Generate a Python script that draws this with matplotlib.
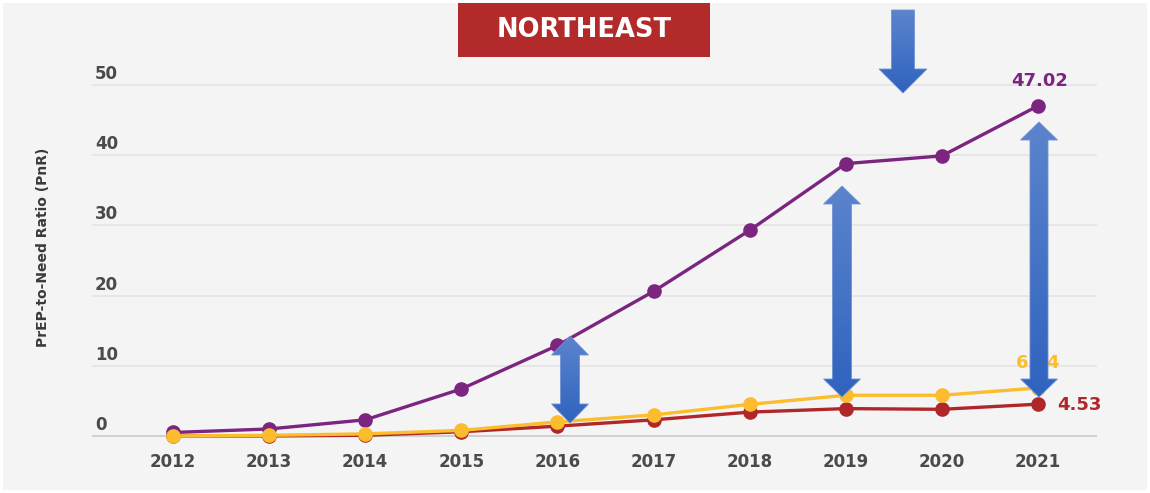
import numpy as np
import matplotlib.pyplot as plt
from matplotlib.patches import Polygon, Rectangle
from matplotlib.colors import LinearSegmentedColormap

# ---- data ----
years = [2012, 2013, 2014, 2015, 2016, 2017, 2018, 2019, 2020, 2021]
purple_vals = [0.5, 1.0, 2.3, 6.7, 12.9, 20.6, 29.3, 38.8, 39.9, 47.02]
yellow_vals = [0.0, 0.1, 0.3, 0.8, 2.0, 3.0, 4.5, 5.8, 5.8, 6.84]
red_vals = [0.0, 0.0, 0.1, 0.6, 1.4, 2.3, 3.4, 3.9, 3.8, 4.53]
y_ticks = [0, 10, 20, 30, 40, 50]

PURPLE = '#7b2580'
YELLOW = '#fbbd2d'
RED = '#b0272a'
GREY_TXT = '#4a4a4a'

W, H = 1150, 493
fig = plt.figure(figsize=(W / 100, H / 100), dpi=100, facecolor='white')
fig.add_artist(Rectangle((3 / W, 3 / H), 1 - 6 / W, 1 - 6 / H, transform=fig.transFigure,
                         facecolor='#f4f4f4', edgecolor='none', zorder=-5))

# main axes, placed in pixels
def px_axes(l, t, r, b):
    return [l / W, 1 - b / H, (r - l) / W, (b - t) / H]

ax = fig.add_axes(px_axes(92, 10, 1097, 480))
ax.set_facecolor('none')
ax.set_xlim(2011.157, 2021.614)
ax.set_ylim(-6.27, 60.68)
for s in ax.spines.values():
    s.set_visible(False)
ax.set_xticks([])
ax.set_yticks([])

for v in y_ticks:
    ax.axhline(v, color='#cfcfcf' if v == 0 else '#e6e6e6', lw=1.4, zorder=1)
    ax.annotate(str(v), xy=(0, v), xycoords=('axes fraction', 'data'),
                xytext=(3, 6), textcoords='offset pixels', ha='left', va='baseline',
                fontsize=12, fontweight='bold', color=GREY_TXT)

for yr in years:
    ax.annotate(str(yr), xy=(yr, 0), xytext=(0, -31), textcoords='offset pixels',
                ha='center', va='baseline', fontsize=12, fontweight='bold', color=GREY_TXT)

ax.plot(years, purple_vals, color=PURPLE, lw=2.4, marker='o', ms=9.5, zorder=3, clip_on=False)
ax.plot(years, red_vals, color=RED, lw=2.4, marker='o', ms=9.5, zorder=4, clip_on=False)
ax.plot(years, yellow_vals, color=YELLOW, lw=2.4, marker='o', ms=9.5, zorder=5, clip_on=False)

ax.annotate(f'{purple_vals[-1]:.2f}', xy=(years[-1], purple_vals[-1]), xytext=(2, 25),
            textcoords='offset pixels', ha='center', va='center', fontsize=13,
            fontweight='bold', color=PURPLE)
ax.annotate(f'{yellow_vals[-1]:.2f}', xy=(years[-1], yellow_vals[-1]), xytext=(0, 25),
            textcoords='offset pixels', ha='center', va='center', fontsize=13,
            fontweight='bold', color=YELLOW)
ax.annotate(f'{red_vals[-1]:.2f}', xy=(years[-1], red_vals[-1]), xytext=(19, -1),
            textcoords='offset pixels', ha='left', va='center', fontsize=13,
            fontweight='bold', color=RED)

fig.text(43 / W, 1 - 247 / H, 'PrEP-to-Need Ratio (PnR)', rotation=90, ha='center',
         va='center', fontsize=10, fontweight='bold', color='#3a3a3a')

# ---- overlay in pixel coords: title box + blue arrows ----
ov = fig.add_axes([0, 0, 1, 1], zorder=10)
ov.set_facecolor('none')
ov.set_xlim(0, W)
ov.set_ylim(H, 0)
ov.axis('off')

ov.add_patch(Rectangle((458, 3), 252, 54, facecolor='#b22a29', edgecolor='none'))
ov.text(584, 30, 'NORTHEAST', ha='center', va='center', color='white',
        fontsize=18.5, fontweight='bold')

blue = LinearSegmentedColormap.from_list('blu', ['#5c84cc', '#2f63bf'])


def arrow_verts(x, top, bot, shaft, head, hlen, up=True, down=True):
    s, h = shaft / 2, head / 2
    v = []
    if up:
        v += [(x, top), (x + h, top + hlen), (x + s, top + hlen)]
    else:
        v += [(x + s, top)]
    if down:
        v += [(x + s, bot - hlen), (x + h, bot - hlen), (x, bot),
              (x - h, bot - hlen), (x - s, bot - hlen)]
    else:
        v += [(x + s, bot), (x - s, bot)]
    if up:
        v += [(x - s, top + hlen), (x - h, top + hlen)]
    else:
        v += [(x - s, top)]
    return v


def gradient_arrow(verts):
    verts = np.array(verts)
    poly = Polygon(verts, closed=True, facecolor='none', edgecolor='#6f92d2', lw=0.6,
                   transform=ov.transData)
    ov.add_patch(poly)
    x0, x1 = verts[:, 0].min(), verts[:, 0].max()
    y0, y1 = verts[:, 1].min(), verts[:, 1].max()
    grad = np.linspace(0, 1, 256).reshape(-1, 1)
    im = ov.imshow(grad, cmap=blue, extent=[x0, x1, y1, y0], aspect='auto',
                   interpolation='bilinear')
    im.set_clip_path(poly)


gradient_arrow(arrow_verts(570, 336, 423, 19, 37, 19))
gradient_arrow(arrow_verts(842, 186, 397, 19, 37, 18))
gradient_arrow(arrow_verts(1039, 122, 397, 18, 37, 18))
gradient_arrow(arrow_verts(903, 10, 93, 23, 48, 24, up=False))

ov.set_xlim(0, W)
ov.set_ylim(H, 0)

fig.savefig('out.png', dpi=100, facecolor=fig.get_facecolor())
